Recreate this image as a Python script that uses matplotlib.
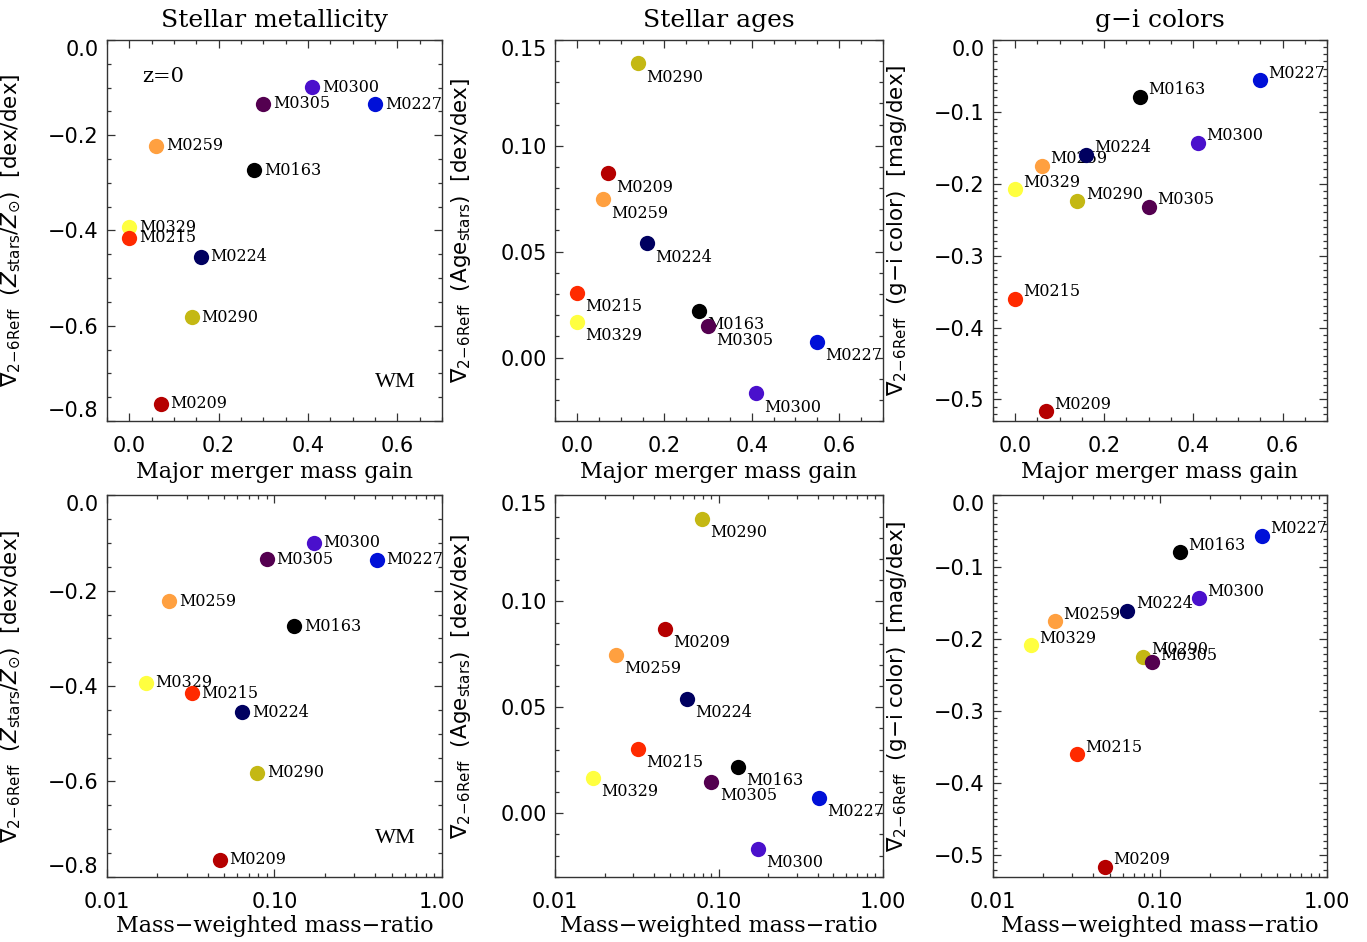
import matplotlib
matplotlib.use("Agg")
import matplotlib.pyplot as plt
from matplotlib.ticker import MultipleLocator, FixedLocator, LogLocator, NullFormatter, FuncFormatter

# galaxies
names = ['M0329', 'M0215', 'M0259', 'M0209', 'M0290', 'M0224', 'M0163', 'M0305', 'M0300', 'M0227']
colors = ['#ffff40', '#ff2a00', '#ffa040', '#b50000', '#c4b814', '#000060', '#000000', '#540050', '#4a10cc', '#0010d8']

merger_gain = [0.0, 0.0, 0.06, 0.07, 0.14, 0.16, 0.28, 0.30, 0.41, 0.55]
mass_ratio = [0.0170, 0.032, 0.0235, 0.047, 0.079, 0.064, 0.131, 0.090, 0.172, 0.408]

grad_Z = [-0.393, -0.415, -0.222, -0.764, -0.582, -0.455, -0.274, -0.134, -0.099, -0.135]
grad_age = [0.0168, 0.0305, 0.0748, 0.087, 0.139, 0.054, 0.022, 0.0148, -0.0168, 0.0074]
grad_gi = [-0.208, -0.360, -0.175, -0.516, -0.224, -0.160, -0.079, -0.232, -0.143, -0.056]

titles = ['Stellar metallicity', 'Stellar ages', 'g\u2212i colors']
ylabels = [r'$\nabla_{\rm 2\!-\!6Reff}$  ($Z_{\rm stars}/Z_{\odot}$)  [dex/dex]',
           r'$\nabla_{\rm 2\!-\!6Reff}$  (Age$_{\rm stars}$)  [dex/dex]',
           r'$\nabla_{\rm 2\!-\!6Reff}$  (g$-$i color)  [mag/dex]']
xlabels = ['Major merger mass gain', 'Mass\u2212weighted mass\u2212ratio']

SERIF = 'DejaVu Serif'
SANS = 'DejaVu Sans'
AXCOL = '#333333'

plt.rcParams['font.family'] = SANS
plt.rcParams['mathtext.fontset'] = 'dejavusans'

fig = plt.figure(figsize=(13.67, 9.42), dpi=100)

lefts = [0.0783, 0.4062, 0.7262]
widths = [0.245, 0.2395, 0.2446]
bottoms = [0.553, 0.0693]
height = 0.4047

ydata = [grad_Z, grad_age, grad_gi]
ylims = [(-0.8, 0.0), (-0.03, 0.15), (-0.53, 0.0)]
ymajor = [0.2, 0.05, 0.1]
yminor = [0.05, 0.01, 0.01]
ydec = [1, 2, 1]
# label offsets in points for each column
offsets = [(7, 0), (6, -10), (6, 5)]


def fmt(ndec):
    """ticks with a long minus sign, as in the original"""
    return FuncFormatter(lambda v, pos: ('%.*f' % (ndec, v)).replace('-', '\u2212')
                         if abs(v) > 1e-12 else '%.*f' % (ndec, 0.0))


def style_axes(ax):
    for sp in ax.spines.values():
        sp.set_color(AXCOL)
        sp.set_linewidth(1.0)
    ax.tick_params(which='both', direction='in', top=True, right=True, color=AXCOL, width=0.9)
    ax.tick_params(which='major', length=6, labelsize=15)
    ax.tick_params(which='minor', length=3)
    ax.tick_params(axis='x', pad=11)
    ax.tick_params(axis='y', pad=6)


for row in range(2):
    xvals = merger_gain if row == 0 else mass_ratio
    for col in range(3):
        ax = fig.add_axes([lefts[col], bottoms[row], widths[col], height])
        yvals = ydata[col]
        dx, dy = offsets[col]
        for i in range(len(names)):
            ax.plot(xvals[i], yvals[i], 'o', ms=11, color=colors[i], mec='none', zorder=3 + 2 * i)
            ax.annotate(names[i], (xvals[i], yvals[i]), xytext=(dx, dy), textcoords='offset points',
                        ha='left', va='center', fontsize=11.5, family=SERIF, zorder=4 + 2 * i)

        if row == 0:
            ax.set_xlim(-0.05, 0.70)
            ax.xaxis.set_major_locator(MultipleLocator(0.2))
            ax.xaxis.set_minor_locator(MultipleLocator(0.05))
            ax.xaxis.set_major_formatter(fmt(1))
        else:
            ax.set_xscale('log')
            ax.set_xlim(0.01, 1.0)
            ax.xaxis.set_major_locator(FixedLocator([0.01, 0.1, 1.0]))
            ax.xaxis.set_minor_locator(LogLocator(base=10, subs=range(2, 10)))
            ax.xaxis.set_minor_formatter(NullFormatter())
            ax.xaxis.set_major_formatter(fmt(2))

        lo, hi = ylims[col]
        ax.set_ylim(lo, hi)
        ax.yaxis.set_major_locator(MultipleLocator(ymajor[col]))
        ax.yaxis.set_minor_locator(MultipleLocator(yminor[col]))
        ax.yaxis.set_major_formatter(fmt(ydec[col]))
        style_axes(ax)

        # end labels sit inside the axis range in the original
        fig.canvas.draw()
        for t in ax.get_yticklabels():
            v = t.get_position()[1]
            if abs(v - hi) < 1e-9:
                t.set_va('top')
            elif abs(v - lo) < 1e-9:
                t.set_va('bottom')

        ax.set_ylabel(ylabels[col], fontsize=15.5)
        ax.yaxis.set_label_coords(-0.25, 0.5)
        ax.set_xlabel(xlabels[row], fontsize=16, family=SERIF)
        ax.xaxis.set_label_coords(0.5, -0.105 if row == 0 else -0.1)
        if row == 0:
            ax.set_title(titles[col], fontsize=18, family=SERIF, pad=9)

        if col == 0:
            if row == 0:
                ax.text(0.104, 0.905, 'z=0', transform=ax.transAxes, fontsize=15,
                        family=SERIF, ha='left', va='center')
            ax.text(0.80, 0.10, 'WM', transform=ax.transAxes, fontsize=16,
                    family='Liberation Serif', ha='left', va='center')

fig.savefig('out.png', dpi=100)
